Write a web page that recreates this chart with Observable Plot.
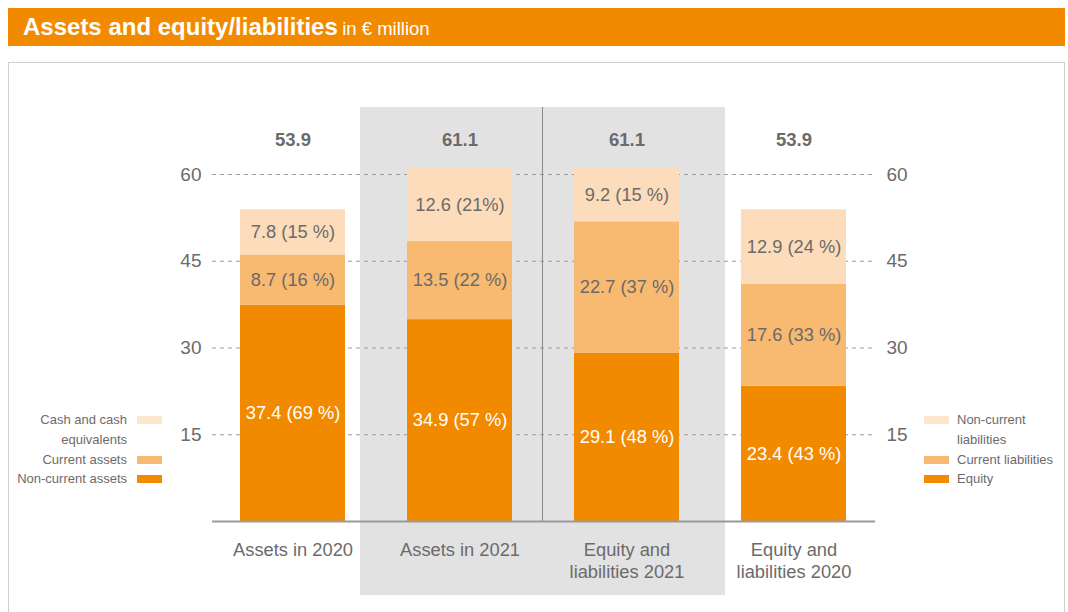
<!DOCTYPE html>
<html>
<head>
<meta charset="utf-8">
<script src="https://cdn.jsdelivr.net/npm/d3@7"></script>
<script src="https://cdn.jsdelivr.net/npm/@observablehq/plot@0.6"></script>
<style>
  html, body { margin: 0; padding: 0; background: white; }
  body { width: 1068px; height: 612px; position: relative; overflow: hidden;
         font-family: "Liberation Sans", Arial, sans-serif; }
  .abs { position: absolute; }
  #title { left: 8px; top: 8px; width: 1057px; height: 38px; background: #F28A00; color: white;
           line-height: 38px; box-sizing: border-box; padding-left: 15px; white-space: nowrap; }
  #title b { font-size: 24px; }
  #title span { font-size: 18.5px; }
  #panel { left: 8px; top: 62px; width: 1055px; height: 600px; border: 1.5px solid #cfcfcf; }
  #band { left: 360px; top: 107px; width: 365px; height: 488px; background: #e2e2e2; }
  #divider { left: 542px; top: 107px; width: 1px; height: 414px; background: #8a8a8a; }
  #chart { left: 0; top: 62px; }
  .leg { font-size: 13px; color: #6b6b6b; line-height: 19.5px; }
  .sw { width: 25px; height: 8px; }
</style>
</head>
<body>
<div id="title" class="abs"><b>Assets and equity/liabilities</b> <span>in € million</span></div>
<div id="panel" class="abs"></div>
<div id="band" class="abs"></div>
<div id="chart" class="abs"></div>
<div id="divider" class="abs"></div>
<div id="legends"></div>
<script>
// ---- data ----
const categories = ["Assets in 2020", "Assets in 2021", "Equity and liabilities 2021", "Equity and liabilities 2020"];
const categoryLines = ["Assets in 2020", "Assets in 2021", "Equity and\nliabilities 2021", "Equity and\nliabilities 2020"];
const bottomValues = [37.4, 34.9, 29.1, 23.4];
const bottomShares = ["69 %", "57 %", "48 %", "43 %"];
const middleValues = [8.7, 13.5, 22.7, 17.6];
const middleShares = ["16 %", "22 %", "37 %", "33 %"];
const topValues = [7.8, 12.6, 9.2, 12.9];
const topShares = ["15 %", "21%", "15 %", "24 %"];
const totals = ["53.9", "61.1", "61.1", "53.9"];
const yTicks = [15, 30, 45, 60];
const leftLegend = ["Cash and cash<br>equivalents", "Current assets", "Non-current assets"];
const rightLegend = ["Non-current<br>liabilities", "Current liabilities", "Equity"];

const colors = { bottom: "#F28A00", middle: "#F8B970", top: "#FCDCBA" };
const legendColors = ["#FDE6CE", "#F8B970", "#F28A00"];
const textColors = { bottom: "white", middle: "#6b6b6b", top: "#6b6b6b" };

const rows = [];
categories.forEach((c, i) => {
  [["bottom", bottomValues, bottomShares], ["middle", middleValues, middleShares], ["top", topValues, topShares]]
    .forEach(([level, vals, shares]) => {
      rows.push({ category: c, level, value: vals[i], label: `${vals[i].toFixed(1)} (${shares[i]})`,
                  color: colors[level], textColor: textColors[level] });
    });
});

const chart = Plot.plot({
  width: 1068,
  height: 550,
  marginLeft: 212,
  marginRight: 193,
  marginTop: 112,
  marginBottom: 91,
  style: { background: "transparent", fontFamily: "'Liberation Sans', Arial, sans-serif" },
  x: { domain: categories, paddingInner: 0.369, paddingOuter: 0.158 },
  y: { domain: [0, 60] },
  color: { type: "identity" },
  marks: [
    Plot.ruleY(yTicks, { stroke: "#9a9a9a", strokeDasharray: "4,4", strokeWidth: 1 }),
    Plot.barY(rows, { x: "category", y: "value", fill: "color" }),
    Plot.ruleY([0], { stroke: "#9a9a9a", strokeWidth: 2 }),
    Plot.text(rows, Plot.stackY({ x: "category", y: "value", text: "label", fill: "textColor", fontSize: 18.3 })),
    Plot.text(categories, { x: d => d, text: (d, i) => totals[i], frameAnchor: "top", dy: -42,
                            fontSize: 18.5, fontWeight: "bold", fill: "#6b6b6b" }),
    Plot.axisY({ anchor: "left", ticks: yTicks, tickSize: 0, tickPadding: 11, fontSize: 19, color: "#6b6b6b", label: null }),
    Plot.axisY({ anchor: "right", ticks: yTicks, tickSize: 0, tickPadding: 11, fontSize: 19, color: "#6b6b6b", label: null }),
    Plot.axisX({ tickSize: 0, tickPadding: 19, fontSize: 18.3, lineHeight: 1.2, color: "#6b6b6b", label: null,
                 tickFormat: d => categoryLines[categories.indexOf(d)] })
  ]
});
document.getElementById("chart").appendChild(chart);

// ---- legends (HTML) ----
const lg = document.getElementById("legends");
const tops = [410, 449.5, 469];
leftLegend.forEach((t, i) => {
  const d = document.createElement("div");
  d.className = "abs leg";
  d.style.cssText = `right:${1068 - 127}px; top:${tops[i]}px; text-align:right; white-space:nowrap;`;
  d.innerHTML = t;
  lg.appendChild(d);
  const s = document.createElement("div");
  s.className = "abs sw";
  s.style.cssText = `left:137px; top:${tops[i] + 6}px; background:${legendColors[i]};`;
  lg.appendChild(s);
});
rightLegend.forEach((t, i) => {
  const d = document.createElement("div");
  d.className = "abs leg";
  d.style.cssText = `left:957px; top:${tops[i]}px; white-space:nowrap;`;
  d.innerHTML = t;
  lg.appendChild(d);
  const s = document.createElement("div");
  s.className = "abs sw";
  s.style.cssText = `left:924px; top:${tops[i] + 6}px; background:${legendColors[i]};`;
  lg.appendChild(s);
});
</script>
</body>
</html>
